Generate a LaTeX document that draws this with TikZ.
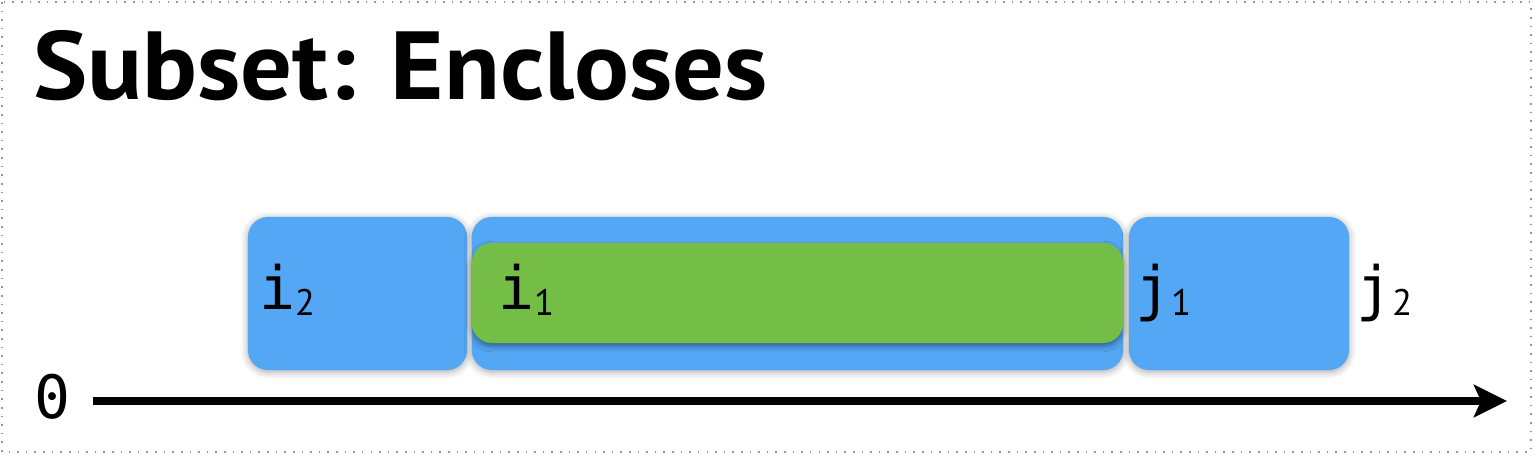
\documentclass[tikz,border=0pt]{standalone}
\usepackage{fontspec}
\setmainfont{PT Sans}
\newfontfamily\monofont{DejaVu Sans Mono}
\newfontfamily\subfont{PT Sans}
\newfontfamily\titlefont[FakeStretch=1.06]{PT Sans Bold}
\usetikzlibrary{positioning,arrows.meta,shadows.blur}
\definecolor{boxblue}{RGB}{84,167,245}
\definecolor{boxgreen}{RGB}{116,190,72}
\definecolor{framegray}{RGB}{150,150,150}
\newcommand{\ivlabel}[2]{{\monofont #1}\raisebox{-1.7pt}{\subfont\fontsize{10.5}{12}\selectfont #2}}

\begin{document}
\begin{tikzpicture}[x=0.01cm, y=-0.01cm,
	every node/.style={inner sep=0pt, outer sep=0pt},
	interval/.style={rectangle, rounded corners=0.2cm, fill=boxblue, minimum height=1.53cm, blur shadow={shadow xshift=0pt, shadow yshift=-0.5pt, shadow blur radius=2pt, shadow opacity=35}},
	inner/.style={rectangle, rounded corners=0.2cm, fill=boxgreen, minimum height=1.0cm, blur shadow={shadow xshift=0pt, shadow yshift=-1pt, shadow blur radius=1.5pt, shadow opacity=40}},
	endpoint/.style={anchor=base west, font=\monofont\fontsize{17}{20}\selectfont}]
	\useasboundingbox (0,0) rectangle (1534,458);
	\draw[framegray, dotted, line width=0.45pt] (2,2) rectangle (1531,452);
	% title
	\node[anchor=base west, font=\titlefont\fontsize{27.5}{30}\selectfont] (title) at (33,100) {Subset: Encloses};
	% intervals
	\node[interval, minimum width=2.19cm] (left) at (357.5,293.5) {};
	\node[interval, minimum width=6.51cm] (middle) at (797.5,293.5) {};
	\node[interval, minimum width=2.20cm] (right) at (1239,293.5) {};
	\node[inner, minimum width=6.51cm] (subset) at (797.5,293) {};
	% end points
	\node[endpoint] (i2) at (259,310) {\ivlabel{i}{2}};
	\node[endpoint] (i1) at (498,310) {\ivlabel{i}{1}};
	\node[endpoint] (j1) at (1135,310) {\ivlabel{j}{1}};
	\node[endpoint] (j2) at (1356,310) {\ivlabel{j}{2}};
	% axis
	\node[font=\monofont\fontsize{17}{20}\selectfont] (zero) at (52,397) {0};
	\coordinate (axisstart) at (93,401);
	\coordinate (axisend) at (1507,401);
	\draw[line width=2.3pt, -{Stealth[length=9.4pt, width=9.2pt, inset=2pt]}] (axisstart) -- (axisend);
\end{tikzpicture}
\end{document}
